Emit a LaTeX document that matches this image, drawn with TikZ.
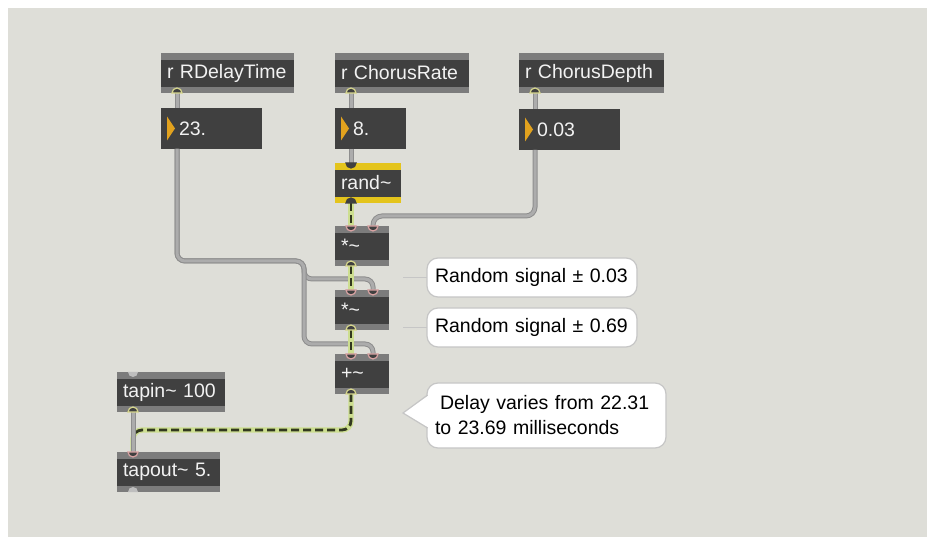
\documentclass[tikz,border=0pt]{standalone}
\usepackage{fontspec}
\setmainfont{Liberation Sans}
\usetikzlibrary{calc}

\definecolor{bgcol}{HTML}{DEDED8}
\definecolor{bodycol}{HTML}{404040}
\definecolor{barcol}{HTML}{7C7C7C}
\definecolor{selcol}{HTML}{E4C41C}
\definecolor{txtcol}{HTML}{F2F2F2}
\definecolor{tricol}{HTML}{E2A21E}
\definecolor{cableedge}{HTML}{8E8E8E}
\definecolor{cablecol}{HTML}{ACACAC}
\definecolor{sigglow}{HTML}{CDDE90}
\definecolor{sigdash}{HTML}{32381F}
\definecolor{inletcol}{HTML}{D8A2A2}
\definecolor{outletcol}{HTML}{D6D68C}
\definecolor{freecol}{HTML}{BEBEBE}
\definecolor{cmtedge}{HTML}{C6C6C6}

\newcommand{\boxfont}{\fontsize{19.5}{22}\selectfont}
\newcommand{\cmtfont}{\fontsize{19.5}{25}\selectfont}

\tikzset{
  obj/.style={fill=barcol, outer sep=0pt, inner xsep=6pt, inner ysep=0pt,
    minimum height=40pt, anchor=north west, text=txtcol, font=\boxfont, align=left,
    path picture={\fill[bodycol] ([yshift=-7pt]path picture bounding box.north west)
      rectangle ([yshift=6pt]path picture bounding box.south east);}},
  selobj/.style={obj, fill=selcol},
  numbox/.style={fill=bodycol, outer sep=0pt, inner xsep=18pt, inner ysep=0pt,
    minimum height=41pt, anchor=north west, text=txtcol, font=\boxfont, align=left},
  cmt/.style={rounded corners=11pt, fill=white, draw=cmtedge, line width=1.2pt,
    outer sep=0pt, inner xsep=8pt, inner ysep=0pt, anchor=north west, font=\cmtfont, align=left},
  ctl/.style={draw=cableedge, line width=5pt, postaction={draw=cablecol, line width=3pt}},
  sig/.style={draw=sigglow, line width=5.4pt,
    postaction={draw=sigdash, line width=2.8pt, dash pattern=on 8pt off 4pt}},
  inlet/.style={fill=bodycol, draw=inletcol, line width=1.2pt},
  outlet/.style={fill=bodycol, draw=outletcol, line width=1.2pt},
  freeport/.style={fill=freecol},
  cmtline/.style={draw=cmtedge, line width=1.6pt}
}

\begin{document}
\begin{tikzpicture}[x=1pt,y=-1pt]
% canvas
\fill[white] (0,0) rectangle (927,537);
\fill[bgcol] (8,8) rectangle (927,537);

% receive objects and number boxes
\node[obj, text width=121pt] (rdt) at (161,53) {r RDelayTime};
\node[obj, text width=122pt] (rcr) at (335,53) {r ChorusRate};
\node[obj, text width=133pt] (rcd) at (519,53) {r ChorusDepth};
\node[numbox, text width=65pt] (num23) at (161,108) {23.};
\node[numbox, text width=35pt] (num8) at (335,108) {8.};
\node[numbox, text width=65pt] (num003) at (519,109) {0.03};
\foreach \n in {num23,num8,num003}
  \fill[tricol] ($(\n.west)+(6,-12)$) -- ++(8,12) -- ++(-8,12) -- cycle;

% signal chain
\node[selobj, text width=54pt] (rand) at (335,163) {rand\textasciitilde};
\node[obj, text width=42pt] (mul1) at (335,226) {*\textasciitilde};
\node[obj, text width=42pt] (mul2) at (335,290) {*\textasciitilde};
\node[obj, text width=42pt] (add) at (335,354) {+\textasciitilde};
\node[obj, text width=96pt] (tapin) at (117,372) {tapin\textasciitilde{} 100};
\node[obj, text width=91pt] (tapout) at (117,452) {tapout\textasciitilde{} 5.};

% port positions
\foreach \n in {rdt,rcr,rcd,num23,num8,num003,rand,mul1,mul2,add,tapin,tapout}{
  \coordinate (\n-i) at ($(\n.north west)+(16,0)$);
  \coordinate (\n-o) at ($(\n.south west)+(16,0)$);
}
\foreach \n in {mul1,mul2,add}
  \coordinate (\n-j) at ($(\n.north east)+(-16,0)$);

% control cables
\draw[ctl] (rdt-o) -- (num23-i);
\draw[ctl] (rcr-o) -- (num8-i);
\draw[ctl] (rcd-o) -- (num003-i);
\draw[ctl] (num8-o) -- (rand-i);
\draw[ctl, rounded corners=9pt] (num003-o) -- ++(0,66) -| (mul1-j);
\draw[ctl, rounded corners=8pt] (num23-o) -- ++(0,112) -- ++(127,0) -- ++(0,18) -| (mul2-j);
\draw[ctl, rounded corners=8pt] (num23-o) -- ++(0,112) -- ++(127,0) -- ++(0,83) -| (add-j);

% signal cables
\draw[sig] (rand-o) -- (mul1-i);
\draw[sig] (mul1-o) -- (mul2-i);
\draw[sig] (mul2-o) -- (add-i);
\draw[sig, rounded corners=9pt] (add-o) -- ++(0,36) -| (tapout-i);
\draw[ctl] (tapin-o) -- (tapout-i);

% ports
\foreach \n in {rdt,rcr,rcd,mul1,mul2,add,tapin}
  \draw[outlet] ($(\n-o)+(-5,0)$) arc[start angle=180,end angle=360,radius=5] -- cycle;
\draw[outlet, draw=bodycol] ($(rand-o)+(-5,0)$) arc[start angle=180,end angle=360,radius=5] -- cycle;
\draw[inlet, draw=bodycol] ($(rand-i)+(-5,0)$) arc[start angle=180,end angle=0,radius=5] -- cycle;
\foreach \n in {mul1,mul2,add,tapout}
  \draw[inlet] ($(\n-i)+(-5,0)$) arc[start angle=180,end angle=0,radius=5] -- cycle;
\foreach \n in {mul1,mul2,add}
  \draw[inlet] ($(\n-j)+(-5,0)$) arc[start angle=180,end angle=0,radius=5] -- cycle;
\fill[freeport] ($(tapin-i)+(-5,0)$) arc[start angle=180,end angle=0,radius=5] -- cycle;
\fill[freeport] ($(tapout-o)+(-5,0)$) arc[start angle=180,end angle=360,radius=5] -- cycle;

% comments
\node[cmt, text width=194pt, minimum height=39pt] (c1) at (427,258) {Random signal ± 0.03};
\node[cmt, text width=194pt, minimum height=39pt] (c2) at (427,308) {Random signal ± 0.69};
\node[cmt, text width=223pt, minimum height=65pt] (c3) at (427,383)
  {\hspace*{5pt}Delay varies from 22.31\\to 23.69 milliseconds};
\coordinate (c1p) at ($(c1.west)+(-24,0)$);
\coordinate (c2p) at ($(c2.west)+(-24,0)$);
\coordinate (c3p) at ($(c3.north west)+(-24,30)$);
\draw[cmtline] (c1p) -- (c1.west);
\draw[cmtline] (c2p) -- (c2.west);
\fill[white] ($(c3.north west)+(2,12)$) -- (c3p) -- ($(c3.north west)+(2,45)$) -- cycle;
\draw[cmtedge, line width=1.2pt] ($(c3.north west)+(0.6,12)$) -- (c3p) -- ($(c3.north west)+(0.6,45)$);
\end{tikzpicture}
\end{document}
